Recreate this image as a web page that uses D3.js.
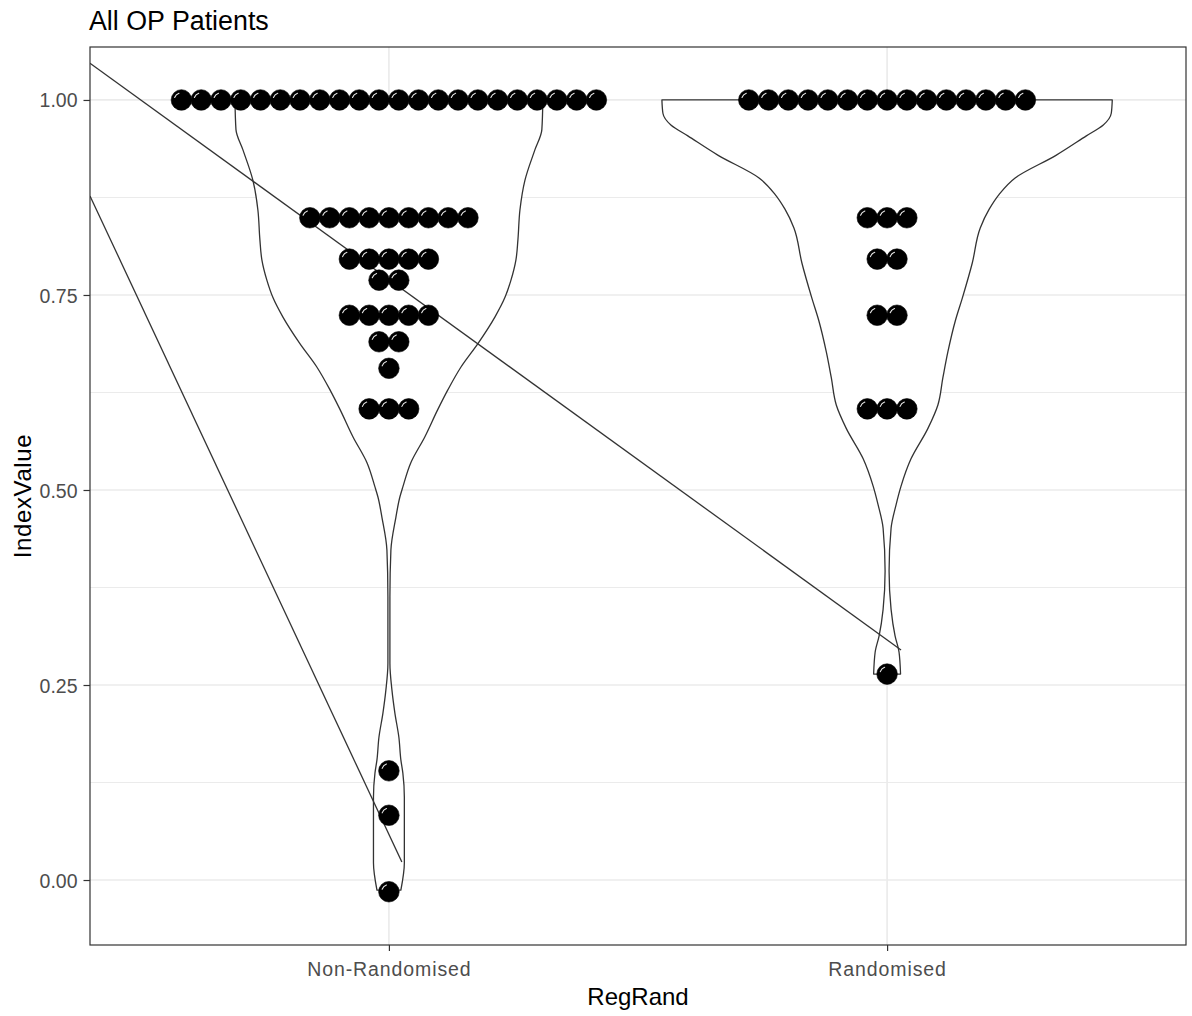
<!DOCTYPE html>
<html>
<head>
<meta charset="utf-8">
<script src="https://cdn.jsdelivr.net/npm/d3@7"></script>
<style>
  html, body { margin: 0; padding: 0; background: #ffffff; }
  svg { display: block; font-family: "Liberation Sans", Arial, Helvetica, sans-serif; }
</style>
</head>
<body>
<svg id="chart" width="1192" height="1016"></svg>
<script>
// ---------------- data ----------------
const chartTitle = "All OP Patients";
const xTitle = "RegRand";
const yTitle = "IndexValue";
const categories = ["Non-Randomised", "Randomised"];
const yTickValues = [0, 0.25, 0.5, 0.75, 1];
const yTickLabels = ["0.00", "0.25", "0.50", "0.75", "1.00"];
const yMinorValues = [0.125, 0.375, 0.625, 0.875];

// violin outlines: value and half-width (in x-axis units)
const nonRandViolinY  = [1.000, 0.962, 0.936, 0.897, 0.859, 0.821, 0.795, 0.769, 0.747, 0.722, 0.688, 0.658, 0.628, 0.603, 0.568, 0.535, 0.504, 0.491, 0.465, 0.423, 0.363, 0.278, 0.244, 0.214, 0.183, 0.154, 0.137, 0.106, 0.022, -0.013];
const nonRandViolinHW = [0.309, 0.307, 0.293, 0.273, 0.263, 0.259, 0.255, 0.245, 0.233, 0.213, 0.179, 0.145, 0.118, 0.098, 0.072, 0.044, 0.028, 0.022, 0.014, 0.004, 0.002, 0.002, 0.006, 0.012, 0.020, 0.024, 0.028, 0.031, 0.031, 0.024];
const randViolinY  = [1.000, 0.983, 0.968, 0.954, 0.929, 0.900, 0.879, 0.860, 0.836, 0.791, 0.746, 0.717, 0.677, 0.644, 0.609, 0.579, 0.540, 0.505, 0.481, 0.451, 0.396, 0.347, 0.313, 0.292, 0.264];
const randViolinHW = [0.452, 0.450, 0.434, 0.400, 0.339, 0.257, 0.225, 0.205, 0.187, 0.171, 0.151, 0.137, 0.122, 0.112, 0.102, 0.082, 0.048, 0.028, 0.018, 0.008, 0.004, 0.008, 0.016, 0.024, 0.027];

// dot rows (bin centre value, number of stacked dots)
const nonRandDotValues = [1.000, 0.849, 0.796, 0.769, 0.724, 0.690, 0.656, 0.604, 0.140, 0.083, -0.015];
const nonRandDotCounts = [22, 9, 5, 2, 5, 2, 1, 3, 1, 1, 1];
const randDotValues = [1.000, 0.849, 0.796, 0.724, 0.604, 0.264];
const randDotCounts = [15, 3, 2, 2, 3, 1];

// straight line segments (x in axis units, y in data units)
const segX0 = [0.4, 0.4];
const segY0 = [1.047, 0.877];
const segX1 = [2.028, 1.026];
const segY1 = [0.295, 0.023];

// ---------------- layout ----------------
const panel = { left: 90, right: 1186, top: 47, bottom: 945 };
const svg = d3.select("#chart");

const x = d3.scaleLinear().domain([0.4, 2.6]).range([panel.left, panel.right]);
const y = d3.scaleLinear().domain([-0.0833, 1.0679]).range([panel.bottom, panel.top]);

const ink = "#333333";

// clip
svg.append("defs").append("clipPath").attr("id", "clip")
  .append("rect").attr("x", panel.left).attr("y", panel.top)
  .attr("width", panel.right - panel.left).attr("height", panel.bottom - panel.top);

// panel background
svg.append("rect").attr("x", panel.left).attr("y", panel.top)
  .attr("width", panel.right - panel.left).attr("height", panel.bottom - panel.top)
  .attr("fill", "#ffffff");

// grid
const grid = svg.append("g");
grid.selectAll("line.minor").data(yMinorValues).enter().append("line")
  .attr("x1", panel.left).attr("x2", panel.right)
  .attr("y1", d => y(d)).attr("y2", d => y(d))
  .attr("stroke", "#EBEBEB").attr("stroke-width", 1.1);
grid.selectAll("line.major").data(yTickValues).enter().append("line")
  .attr("x1", panel.left).attr("x2", panel.right)
  .attr("y1", d => y(d)).attr("y2", d => y(d))
  .attr("stroke", "#EBEBEB").attr("stroke-width", 1.7);
grid.selectAll("line.xmajor").data(categories).enter().append("line")
  .attr("y1", panel.top).attr("y2", panel.bottom)
  .attr("x1", (d, i) => x(i + 1)).attr("x2", (d, i) => x(i + 1))
  .attr("stroke", "#EBEBEB").attr("stroke-width", 1.7);

const plot = svg.append("g").attr("clip-path", "url(#clip)");

// violins
function violinPath(center, ys, hws) {
  const line = d3.line().curve(d3.curveMonotoneY);
  const left = ys.map((v, i) => [x(center - hws[i]) , y(v)]);
  const right = ys.map((v, i) => [x(center + hws[i]), y(v)]).reverse();
  const dl = line(left);
  const dr = line(right).replace(/^M/, "L");
  return dl + dr + "Z";
}
const violins = [
  { c: 1, ys: nonRandViolinY, hws: nonRandViolinHW },
  { c: 2, ys: randViolinY, hws: randViolinHW }
];
plot.selectAll("path.violin").data(violins).enter().append("path")
  .attr("d", d => violinPath(d.c, d.ys, d.hws))
  .attr("fill", "#ffffff")
  .attr("stroke", ink).attr("stroke-width", 1.3)
  .attr("stroke-linejoin", "round");

// segments
plot.selectAll("line.seg").data(segX0).enter().append("line")
  .attr("x1", (d, i) => x(segX0[i])).attr("y1", (d, i) => y(segY0[i]))
  .attr("x2", (d, i) => x(segX1[i])).attr("y2", (d, i) => y(segY1[i]))
  .attr("stroke", ink).attr("stroke-width", 1.3);

// dots
const dotR = 10.3;
const dotStep = 19.76 / (x(2) - x(1)); // spacing in axis units
const dots = [];
function addDots(center, vals, counts) {
  vals.forEach((v, i) => {
    const n = counts[i];
    for (let k = 0; k < n; k++) {
      dots.push({ xv: center + (k - (n - 1) / 2) * dotStep, yv: v });
    }
  });
}
addDots(1, nonRandDotValues, nonRandDotCounts);
addDots(2, randDotValues, randDotCounts);

const dotG = plot.selectAll("g.dot").data(dots).enter().append("g")
  .attr("transform", d => `translate(${x(d.xv)},${y(d.yv)})`);
dotG.append("circle").attr("r", dotR).attr("fill", "#000000")
  .attr("stroke", "#000000").attr("stroke-width", 0.6);
const gr = 7.2, a1 = 200 * Math.PI / 180, a2 = 250 * Math.PI / 180;
dotG.append("path")
  .attr("d", `M${gr * Math.cos(a1)},${gr * Math.sin(a1)} A${gr},${gr} 0 0 1 ${gr * Math.cos(a2)},${gr * Math.sin(a2)}`)
  .attr("fill", "none").attr("stroke", "#ffffff").attr("stroke-width", 1.1)
  .attr("stroke-linecap", "round").attr("opacity", 0.9);

// panel border
svg.append("rect").attr("x", panel.left).attr("y", panel.top)
  .attr("width", panel.right - panel.left).attr("height", panel.bottom - panel.top)
  .attr("fill", "none").attr("stroke", ink).attr("stroke-width", 1.2);

// axes
const yAxis = d3.axisLeft(y).tickValues(yTickValues)
  .tickFormat((d, i) => yTickLabels[i]).tickSize(6.5).tickPadding(6);
const gy = svg.append("g").attr("transform", `translate(${panel.left},0)`).call(yAxis);
gy.select(".domain").remove();
gy.selectAll(".tick line").attr("stroke", ink).attr("stroke-width", 1.2);
gy.selectAll(".tick text").attr("fill", "#4D4D4D").attr("font-size", "19.5px")
  .attr("font-family", "Liberation Sans, Arial, sans-serif").attr("dy", "0.36em");

const xAxis = d3.axisBottom(x).tickValues([1, 2])
  .tickFormat(d => categories[d - 1]).tickSize(6).tickPadding(11);
const gx = svg.append("g").attr("transform", `translate(0,${panel.bottom})`).call(xAxis);
gx.select(".domain").remove();
gx.selectAll(".tick line").attr("stroke", ink).attr("stroke-width", 1.2);
gx.selectAll(".tick text").attr("fill", "#4D4D4D").attr("font-size", "19.5px")
  .attr("font-family", "Liberation Sans, Arial, sans-serif")
  .attr("letter-spacing", "0.9px").attr("dy", "0.71em");

// titles
svg.append("text").attr("x", 89).attr("y", 29.5)
  .attr("font-size", "26.8px").attr("fill", "#000").text(chartTitle);
svg.append("text").attr("x", (panel.left + panel.right) / 2).attr("y", 1005)
  .attr("text-anchor", "middle").attr("font-size", "24px").attr("fill", "#000").text(xTitle);
svg.append("text").attr("transform", `translate(31,${(panel.top + panel.bottom) / 2}) rotate(-90)`)
  .attr("text-anchor", "middle").attr("font-size", "24px").attr("fill", "#000")
  .attr("letter-spacing", "0.6px").text(yTitle);
</script>
</body>
</html>
